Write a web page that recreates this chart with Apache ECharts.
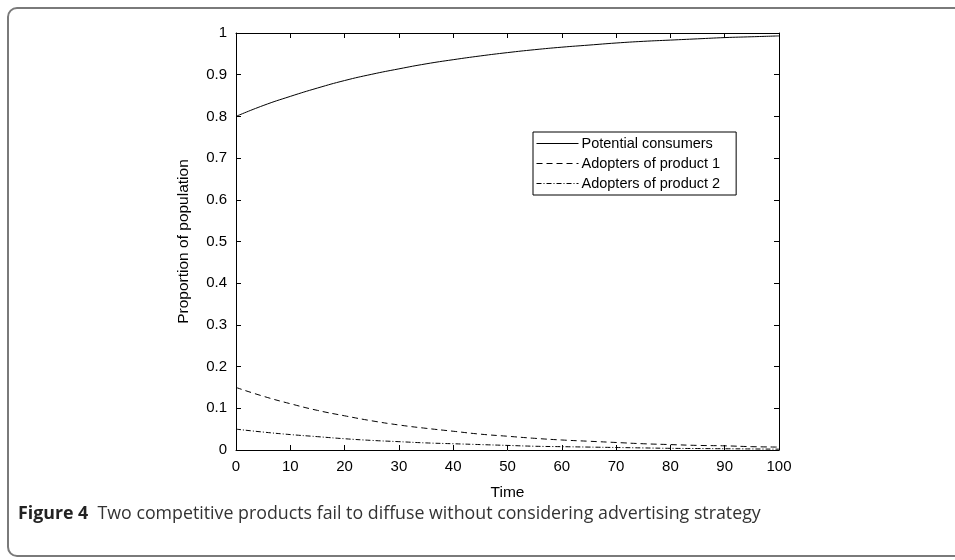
<!DOCTYPE html>
<html>
<head>
<meta charset="utf-8">
<script src="https://cdn.jsdelivr.net/npm/echarts@6/dist/echarts.min.js"></script>
<style>
  html, body { margin: 0; padding: 0; background: #fff; }
  #chart { width: 955px; height: 560px; }
</style>
</head>
<body>
<div id="chart"></div>
<script>
// time steps
const time = [0, 5, 10, 15, 20, 25, 30, 35, 40, 45, 50, 55, 60, 65, 70, 75, 80, 85, 90, 95, 100]
// values
const potential = [0.800, 0.826, 0.848, 0.868, 0.886, 0.901, 0.914, 0.926, 0.936, 0.945, 0.953, 0.960, 0.966, 0.971, 0.976, 0.980, 0.983, 0.986, 0.989, 0.991, 0.993]
const adopters1 = [0.150, 0.129, 0.111, 0.095, 0.082, 0.070, 0.060, 0.052, 0.045, 0.038, 0.033, 0.028, 0.024, 0.021, 0.018, 0.015, 0.013, 0.011, 0.010, 0.008, 0.007]
const adopters2 = [0.050, 0.043, 0.037, 0.032, 0.027, 0.023, 0.020, 0.017, 0.015, 0.013, 0.011, 0.009, 0.008, 0.007, 0.006, 0.005, 0.004, 0.0035, 0.003, 0.0025, 0.002]
const names = ['Potential consumers', 'Adopters of product 1', 'Adopters of product 2']

const font = 'Liberation Sans, Arial, sans-serif'
const pair = arr => time.map((t, i) => [t, arr[i]])

// box frame: ticks pointing inward on all four sides
const frameAxis = {
  axisLine: { show: true, onZero: false, lineStyle: { color: '#000', width: 1 } },
  axisTick: { show: true, inside: true, length: 5, lineStyle: { color: '#000' } },
  splitLine: { show: false }
}

const chart = echarts.init(document.getElementById('chart'))

const lineSeries = (name, data, type) => ({
  name,
  type: 'line',
  data: pair(data),
  smooth: true,
  symbol: 'none',
  itemStyle: { color: '#000' },
  lineStyle: { color: '#000', width: 1, type }
})

chart.setOption({
  backgroundColor: '#fff',
  animation: false,
  grid: { left: 236, top: 33, right: 176, bottom: 110 },
  legend: {
    left: 533, top: 132,
    orient: 'vertical',
    backgroundColor: '#fff',
    borderColor: '#000', borderWidth: 1,
    padding: [4, 16, 4, 3],
    itemGap: 5,
    itemWidth: 42, itemHeight: 16,
    itemStyle: { opacity: 0 },
    lineStyle: { width: 1 },
    textStyle: { fontFamily: font, fontSize: 14.5, color: '#000', padding: [0, 0, 0, -2] },
    data: names
  },
  xAxis: [
    Object.assign({
      type: 'value', min: 0, max: 100, interval: 10,
      name: 'Time', nameLocation: 'middle', nameGap: 35,
      nameTextStyle: { fontFamily: font, fontSize: 15.5, color: '#000' },
      axisLabel: { fontFamily: font, fontSize: 15, color: '#000', margin: 9 }
    }, frameAxis),
    Object.assign({
      type: 'value', min: 0, max: 100, interval: 10, position: 'top',
      axisLabel: { show: false }
    }, frameAxis)
  ],
  yAxis: [
    Object.assign({
      type: 'value', min: 0, max: 1, interval: 0.1,
      name: 'Proportion of population', nameLocation: 'middle', nameGap: 44,
      nameTextStyle: { fontFamily: font, fontSize: 15.5, color: '#000' },
      axisLabel: { fontFamily: font, fontSize: 15, color: '#000', margin: 9 }
    }, frameAxis),
    Object.assign({
      type: 'value', min: 0, max: 1, interval: 0.1, position: 'right',
      axisLabel: { show: false }
    }, frameAxis)
  ],
  series: [
    lineSeries(names[0], potential, 'solid'),
    lineSeries(names[1], adopters1, [6, 4]),
    lineSeries(names[2], adopters2, [5, 2, 1, 2])
  ],
  graphic: [
    {
      type: 'rect', silent: true, z: -1,
      shape: { x: 8, y: 8, width: 1000, height: 548, r: 9 },
      style: { fill: 'none', stroke: '#7a7a7a', lineWidth: 2 }
    },
    {
      type: 'text', left: 18, top: 505,
      style: {
        rich: {
          b: { fontFamily: 'Open Sans, sans-serif', fontSize: 17.8, fontWeight: 'bold', fill: '#222' },
          n: { fontFamily: 'Open Sans, sans-serif', fontSize: 17.8, fill: '#333' }
        },
        text: '{b|Figure 4}{n|  Two competitive products fail to diffuse without considering advertising strategy}'
      }
    }
  ]
})
</script>
</body>
</html>
